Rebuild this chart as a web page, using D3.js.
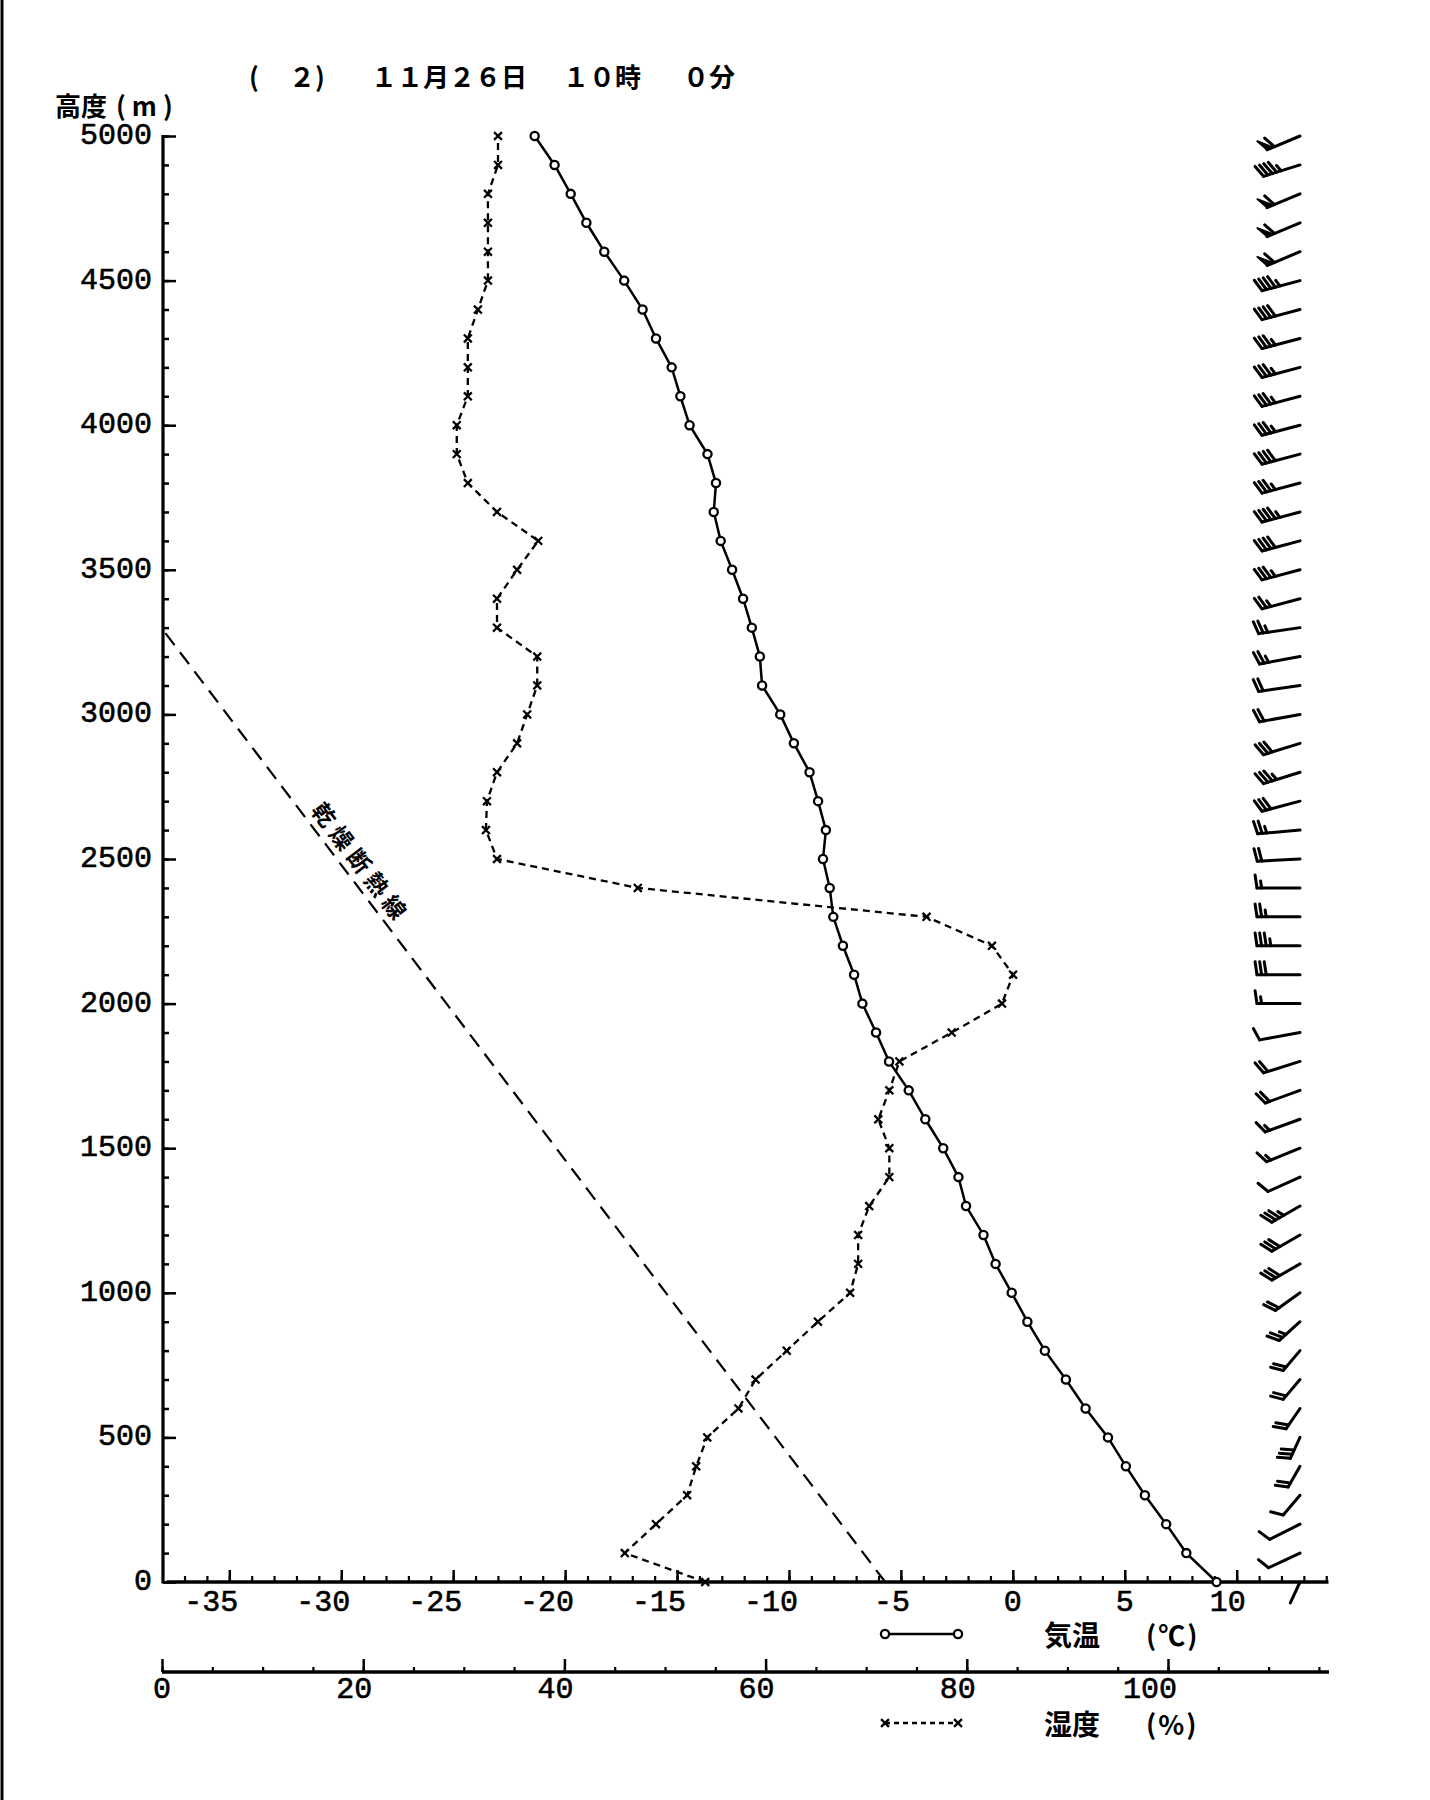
<!DOCTYPE html>
<html><head><meta charset="utf-8">
<script src="https://cdn.jsdelivr.net/npm/d3@7"></script>
<style>body{margin:0;background:#fff}svg{display:block}</style>
</head><body>
<svg id="c" width="1430" height="1800"></svg>
<script>
// ---------------- DATA ----------------
const heights = [0,100,200,300,400,500,600,700,800,900,1000,1100,1200,1300,1400,1500,1600,1700,1800,1900,2000,
  2100,2200,2300,2400,2500,2600,2700,2800,2900,3000,3100,3200,3300,3400,3500,3600,3700,3800,3900,4000,
  4100,4200,4300,4400,4500,4600,4700,4800,4900,5000];
const temperature = [9.1,7.75,6.85,5.9,5.05,4.25,3.25,2.37,1.43,0.65,-0.05,-0.77,-1.31,-2.09,-2.43,-3.11,-3.91,-4.65,-5.53,-6.11,-6.72,
  -7.09,-7.59,-8.02,-8.18,-8.48,-8.35,-8.7,-9.08,-9.78,-10.39,-11.2,-11.3,-11.66,-12.05,-12.54,-13.05,-13.36,-13.26,-13.64,-14.44,
  -14.85,-15.24,-15.94,-16.54,-17.36,-18.25,-19.05,-19.75,-20.47,-21.36];
const humidity = [54.0,46.0,49.1,52.2,53.1,54.2,57.3,59.0,62.1,65.2,68.4,69.2,69.2,70.3,72.3,72.3,71.2,72.3,73.3,78.5,83.5,
  84.6,82.5,76.0,47.3,33.3,32.2,32.3,33.3,35.3,36.3,37.3,37.3,33.3,33.3,35.3,37.4,33.3,30.4,29.3,29.3,
  30.4,30.4,30.4,31.4,32.4,32.4,32.4,32.4,33.4,33.4];
const windDir = [193,227,225,203,196,193,199,203,203,209,215,221,221,221,228,231,234,234,238,250,270,
  270,270,270,270,264,260,242,238,238,250,254,250,254,242,242,242,242,242,242,242,
  242,242,242,242,242,230,230,230,238,230];
const windSpeed = [0,10,10,10,20,30,20,20,20,25,20,30,30,35,10,15,15,20,20,10,15,
  30,35,25,15,20,25,30,35,30,20,20,25,25,25,35,40,45,35,40,35,
  35,35,35,40,45,60,60,60,45,60];
const adiabatTemp = [-5.7, -37.9];   // dry adiabatic line (乾燥断熱線)
const adiabatHeight = [0, 3286];
const heightTicks = [0,500,1000,1500,2000,2500,3000,3500,4000,4500,5000];
const heightTickLabels = ["0","500","1000","1500","2000","2500","3000","3500","4000","4500","5000"];
const tempTicks = [-35,-30,-25,-20,-15,-10,-5,0,5,10];
const tempTickLabels = ["-35","-30","-25","-20","-15","-10","-5","0","5","10"];
const humTicks = [0,20,40,60,80,100];
const humTickLabels = ["0","20","40","60","80","100"];
const titleParts = ["(", "２)", "１１月２６日", "１０時", "０分"];
const yTitle = ["高度", "(m)"];
const legendTemp = ["気温", "(℃)"];
const legendHum = ["湿度", "(%)"];
const adiabatLabel = "乾燥断熱線";

// ---------------- SCALES ----------------
const svg = d3.select("#c");
const xT = d3.scaleLinear().domain([-35, 10]).range([229.3, 1236.7]);
const xH = d3.scaleLinear().domain([0, 100]).range([162, 1168]);
const y = d3.scaleLinear().domain([0, 5000]).range([1582, 136]);
const tempExtent = [-37.8, 14.1];
const humExtent = [0, 116];
const axisX = 163;
const humAxisY = 1672;
const mono = "'Liberation Mono', 'DejaVu Sans Mono', monospace";
const cjk = "'Noto Sans CJK JP', sans-serif";
const charW = 18;

const rows = heights.map((h, i) => ({h, t: temperature[i], rh: humidity[i], dir: windDir[i], spd: windSpeed[i]}));

// left border
svg.append("line").attr("x1", 2).attr("x2", 2).attr("y1", 0).attr("y2", 1800)
  .attr("stroke", "#000").attr("stroke-width", 3);

// ---------------- AXES ----------------
function styleAxis(g, w) {
  g.select(".domain").remove();
  g.selectAll(".tick line").attr("stroke", "#000").attr("stroke-width", w);
}
const minorH = d3.range(0, 5001, 100);
svg.append("g").attr("transform", `translate(${axisX},0)`)
  .call(d3.axisLeft(y).tickValues(minorH).tickSize(-6).tickFormat("").tickSizeOuter(0))
  .call(g => styleAxis(g, 2.5));
svg.append("g").attr("transform", `translate(${axisX},0)`)
  .call(d3.axisLeft(y).tickValues(heightTicks).tickSize(-13).tickFormat("").tickSizeOuter(0))
  .call(g => styleAxis(g, 2.5));
svg.append("line").attr("x1", axisX).attr("x2", axisX).attr("y1", y(5000) - 1).attr("y2", y(0) + 1.5)
  .attr("stroke", "#000").attr("stroke-width", 3.2);
svg.append("g").selectAll("text").data(heightTicks).join("text")
  .attr("x", axisX - 11).attr("y", d => y(d)).attr("text-anchor", "end")
  .attr("dominant-baseline", "central")
  .attr("font-family", mono).attr("font-size", 30).attr("stroke", "#000").attr("stroke-width", 0.6)
  .text((d, i) => heightTickLabels[i]);

// Temperature axis
const minorT = d3.range(-37, 15, 1);
svg.append("g").attr("transform", `translate(0,${y(0)})`)
  .call(d3.axisBottom(xT).tickValues(minorT).tickSize(-6).tickFormat("").tickSizeOuter(0))
  .call(g => styleAxis(g, 2.2));
svg.append("g").attr("transform", `translate(0,${y(0)})`)
  .call(d3.axisBottom(xT).tickValues(tempTicks).tickSize(-12).tickFormat("").tickSizeOuter(0))
  .call(g => styleAxis(g, 2.5));
svg.append("line").attr("x1", xT(tempExtent[0])).attr("x2", xT(tempExtent[1]))
  .attr("y1", y(0)).attr("y2", y(0)).attr("stroke", "#000").attr("stroke-width", 3.5);
svg.append("g").selectAll("text").data(tempTicks).join("text")
  .attr("x", d => xT(d) + charW / 2).attr("y", y(0) + 21).attr("text-anchor", "end")
  .attr("dominant-baseline", "central")
  .attr("font-family", mono).attr("font-size", 30).attr("stroke", "#000").attr("stroke-width", 0.6)
  .text((d, i) => tempTickLabels[i]);

// Humidity axis
const minorRH = d3.range(0, 116, 5);
svg.append("g").attr("transform", `translate(0,${humAxisY})`)
  .call(d3.axisBottom(xH).tickValues(minorRH).tickSize(-5).tickFormat("").tickSizeOuter(0))
  .call(g => styleAxis(g, 2.2));
svg.append("g").attr("transform", `translate(0,${humAxisY})`)
  .call(d3.axisBottom(xH).tickValues(humTicks).tickSize(-13).tickFormat("").tickSizeOuter(0))
  .call(g => styleAxis(g, 2.5));
svg.append("line").attr("x1", xH(humExtent[0])).attr("x2", xH(humExtent[1]))
  .attr("y1", humAxisY).attr("y2", humAxisY).attr("stroke", "#000").attr("stroke-width", 3.5);
svg.append("g").selectAll("text").data(humTicks).join("text")
  .attr("x", d => xH(d) + charW / 2).attr("y", humAxisY + 18).attr("text-anchor", "end")
  .attr("dominant-baseline", "central")
  .attr("font-family", mono).attr("font-size", 30).attr("stroke", "#000").attr("stroke-width", 0.6)
  .text((d, i) => humTickLabels[i]);

// ---------------- DRY ADIABAT ----------------
const adi = adiabatTemp.map((t, i) => ({t, h: adiabatHeight[i]}));
svg.append("path").datum(adi)
  .attr("d", d3.line().x(d => xT(d.t)).y(d => y(d.h)))
  .attr("fill", "none").attr("stroke", "#000").attr("stroke-width", 2.2)
  .attr("stroke-dasharray", "15,9");
{
  const dx = xT(adi[1].t) - xT(adi[0].t), dy = y(adi[1].h) - y(adi[0].h);
  const ang = Math.atan2(-dy, -dx) * 180 / Math.PI;
  const hLab = 2450;
  const tLab = adi[0].t + (adi[1].t - adi[0].t) * (hLab - adi[0].h) / (adi[1].h - adi[0].h);
  const len = Math.hypot(dx, dy);
  const nx = -dy / len, ny = dx / len;
  const off = 18;
  const cx = xT(tLab) + off * Math.abs(nx), cy = y(hLab) - off * Math.abs(ny);
  svg.append("text").attr("transform", `translate(${cx},${cy}) rotate(${ang})`)
    .attr("text-anchor", "middle").attr("dominant-baseline", "central")
    .attr("font-family", cjk).attr("font-weight", 700).attr("font-size", 23)
    .attr("letter-spacing", 6).text(adiabatLabel);
}

// ---------------- HUMIDITY ----------------
svg.append("path").datum(rows)
  .attr("d", d3.line().x(d => xH(d.rh)).y(d => y(d.h)))
  .attr("fill", "none").attr("stroke", "#000").attr("stroke-width", 2.3)
  .attr("stroke-dasharray", "7,5");
svg.append("g").selectAll("path").data(rows).join("path")
  .attr("transform", d => `translate(${xH(d.rh)},${y(d.h)})`)
  .attr("d", d3.symbol(d3.symbolX, 42)).attr("fill", "none").attr("stroke", "#000").attr("stroke-width", 2.3);

// ---------------- TEMPERATURE ----------------
svg.append("path").datum(rows)
  .attr("d", d3.line().x(d => xT(d.t)).y(d => y(d.h)))
  .attr("fill", "none").attr("stroke", "#000").attr("stroke-width", 2.5);
svg.append("g").selectAll("circle").data(rows).join("circle")
  .attr("cx", d => xT(d.t)).attr("cy", d => y(d.h)).attr("r", 4.1)
  .attr("fill", "#fff").attr("stroke", "#000").attr("stroke-width", 2.3);

// ---------------- WIND BARBS ----------------
const barbX = 1300, staffLen = 43, squeeze = 0.5, featherLen = 13, halfLen = 7, featherGap = 4.6;
const gW = svg.append("g").attr("stroke", "#000").attr("stroke-width", 3).attr("fill", "#000")
  .attr("stroke-linecap", "round");
rows.forEach(d => {
  const a = d.dir * Math.PI / 180;
  const ux = Math.sin(a), uy = -Math.cos(a);
  let sx = ux, sy = uy * squeeze;
  const sl = Math.hypot(sx, sy);
  const L = staffLen * sl;
  sx /= sl; sy /= sl;
  const px = barbX, py = y(d.h);
  const tx = px + L * sx, ty = py + L * sy;
  gW.append("line").attr("x1", px).attr("y1", py).attr("x2", tx).attr("y2", ty);
  let fx = -uy + 0.15 * ux, fy = ux + 0.15 * uy;
  const fl = Math.hypot(fx, fy); fx /= fl; fy /= fl;
  let rem = d.spd, pos = 0;
  const P = s => [tx - s * sx, ty - s * sy];
  while (rem >= 50) {
    const p0 = P(pos), p1 = P(pos + 6.5);
    gW.append("path").attr("d", `M${p0[0]},${p0[1]}L${p0[0] + featherLen * fx},${p0[1] + featherLen * fy}L${p1[0]},${p1[1]}Z`)
      .attr("stroke-width", 1.8).attr("stroke-linejoin", "round");
    pos += 8; rem -= 50;
  }
  while (rem >= 10) {
    const p0 = P(pos);
    gW.append("line").attr("x1", p0[0]).attr("y1", p0[1])
      .attr("x2", p0[0] + featherLen * fx).attr("y2", p0[1] + featherLen * fy);
    pos += featherGap; rem -= 10;
  }
  if (rem >= 5) {
    const p0 = P(pos);
    gW.append("line").attr("x1", p0[0]).attr("y1", p0[1])
      .attr("x2", p0[0] + halfLen * fx).attr("y2", p0[1] + halfLen * fy);
  }
});

// ---------------- TITLES ----------------
const titleX = [249, 289, 371, 563, 683];
svg.append("text").attr("y", 75).attr("dominant-baseline", "central")
  .attr("font-family", cjk).attr("font-weight", 700).attr("font-size", 26)
  .selectAll("tspan").data(titleParts).join("tspan").attr("x", (d, i) => titleX[i]).text(d => d);
svg.append("text").attr("x", 55).attr("y", 104).attr("dominant-baseline", "central")
  .attr("font-family", cjk).attr("font-weight", 700).attr("font-size", 26).text(yTitle[0]);
svg.append("text").attr("x", 116).attr("y", 104).attr("dominant-baseline", "central")
  .attr("font-family", cjk).attr("font-weight", 700).attr("font-size", 26).attr("letter-spacing", 6).text(yTitle[1]);

// ---------------- LEGEND ----------------
const legY1 = 1634, legY2 = 1723, legX0 = 885, legX1 = 958;
svg.append("line").attr("x1", legX0).attr("x2", legX1).attr("y1", legY1).attr("y2", legY1)
  .attr("stroke", "#000").attr("stroke-width", 2.3);
svg.append("g").selectAll("circle").data([legX0, legX1]).join("circle")
  .attr("cx", d => d).attr("cy", legY1).attr("r", 4.1).attr("fill", "#fff").attr("stroke", "#000").attr("stroke-width", 2.3);
svg.append("line").attr("x1", legX0).attr("x2", legX1).attr("y1", legY2).attr("y2", legY2)
  .attr("stroke", "#000").attr("stroke-width", 2.3).attr("stroke-dasharray", "5,4");
svg.append("g").selectAll("path").data([legX0, legX1]).join("path")
  .attr("transform", d => `translate(${d},${legY2})`)
  .attr("d", d3.symbol(d3.symbolX, 42)).attr("fill", "none").attr("stroke", "#000").attr("stroke-width", 2.3);
[[legendTemp, legY1], [legendHum, legY2]].forEach(([parts, ly]) => {
  svg.append("text").attr("x", 1044).attr("y", ly).attr("dominant-baseline", "central")
    .attr("font-family", cjk).attr("font-weight", 700).attr("font-size", 28).text(parts[0]);
  svg.append("text").attr("x", 1146).attr("y", ly).attr("dominant-baseline", "central")
    .attr("font-family", cjk).attr("font-weight", 700).attr("font-size", 27).attr("letter-spacing", 2).text(parts[1]);
});
</script>
</body></html>
